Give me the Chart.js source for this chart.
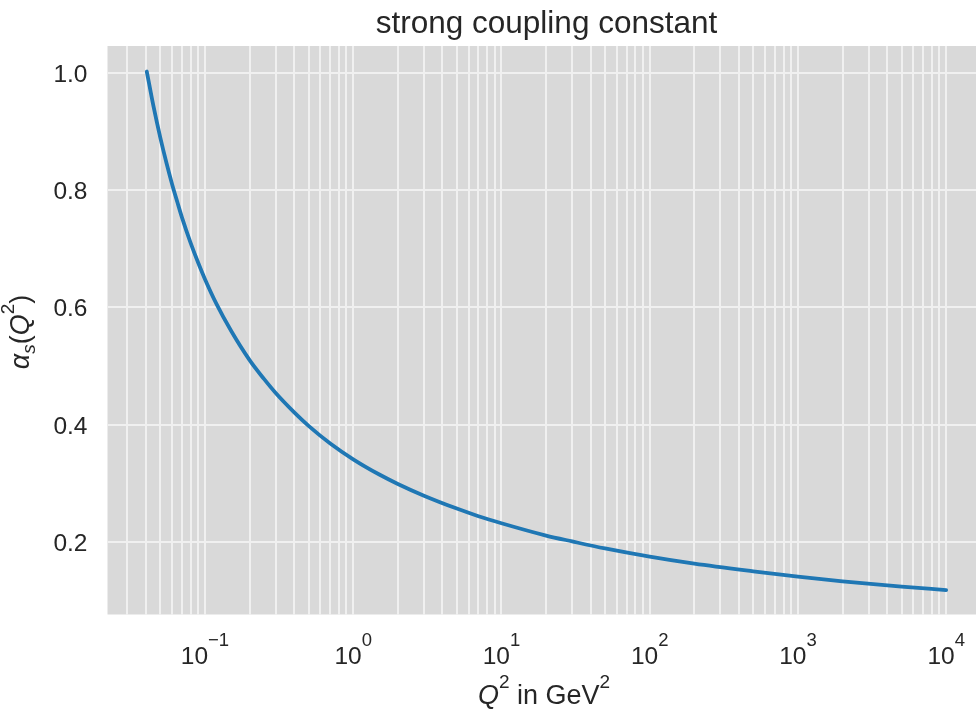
<!DOCTYPE html>
<html><head><meta charset="utf-8">
<script src="https://cdn.jsdelivr.net/npm/chart.js@4.4.1/dist/chart.umd.min.js"></script>
<style>html,body{margin:0;padding:0;background:#fff}#wrap{width:976px;height:713px}</style>
</head><body><div id="wrap"><canvas id="c" width="976" height="713"></canvas></div>
<script>
// ---- data ----
const q2Values = [0.0405, 0.045, 0.05, 0.055, 0.06, 0.065, 0.07, 0.08, 0.09, 0.1,
  0.12, 0.15, 0.2, 0.25, 0.3, 0.4, 0.5, 0.7, 1, 1.5, 2, 3, 5, 7, 10,
  20, 30, 50, 100, 200, 500, 1000, 2000, 5000, 10000];
const alphaValues = [1.002, 0.942, 0.889, 0.846, 0.810, 0.780, 0.753, 0.710, 0.676, 0.648,
  0.605, 0.560, 0.510, 0.478, 0.454, 0.421, 0.398, 0.368, 0.341, 0.315, 0.299, 0.279, 0.257, 0.244, 0.232,
  0.211, 0.201, 0.189, 0.175, 0.163, 0.150, 0.141, 0.133, 0.124, 0.118];
const xDecadeTicks = [0.1, 1, 10, 100, 1000, 10000];
const xDecadeExponents = ['\u22121', '0', '1', '2', '3', '4'];
const xGridValues = [0.03,0.04,0.05,0.06,0.07,0.08,0.09,
  0.1,0.2,0.3,0.4,0.5,0.6,0.7,0.8,0.9,
  1,2,3,4,5,6,7,8,9,
  10,20,30,40,50,60,70,80,90,
  100,200,300,400,500,600,700,800,900,
  1000,2000,3000,4000,5000,6000,7000,8000,9000,
  10000];
const yTickValues = [0.2, 0.4, 0.6, 0.8, 1.0];
const yTickLabels = ['0.2', '0.4', '0.6', '0.8', '1.0'];
const titleText = 'strong coupling constant';

// ---- styling ----
const FAMILY = "'Liberation Sans', Arial, sans-serif";
const TEXT = '#262626';
function fontStr(p){ return (p.italic ? 'italic ' : '') + p.size + 'px ' + FAMILY; }
function drawRun(ctx, parts, x, y, align){
  const w = parts.map(p => { ctx.font = fontStr(p); return ctx.measureText(p.t).width; });
  const total = w.reduce((a,b)=>a+b, 0);
  let cx = align === 'center' ? x - total/2 : (align === 'right' ? x - total : x);
  ctx.textAlign = 'left';
  ctx.textBaseline = 'alphabetic';
  parts.forEach((p,i) => { ctx.font = fontStr(p); ctx.fillText(p.t, cx, y + (p.dy||0)); cx += w[i]; });
}

const bgPlugin = {
  id: 'bg',
  beforeDraw(chart){
    const {ctx, chartArea: a} = chart;
    ctx.save(); ctx.fillStyle = '#d9d9d9';
    ctx.fillRect(a.left, a.top, a.right - a.left, a.bottom - a.top);
    ctx.restore();
  }
};

const textPlugin = {
  id: 'texts',
  afterDraw(chart){
    const {ctx, chartArea: a} = chart;
    const xs = chart.scales.x, ys = chart.scales.y;
    ctx.save();
    ctx.fillStyle = TEXT;
    // y tick labels
    yTickValues.forEach((v,i) => {
      const py = ys.getPixelForValue(v);
      drawRun(ctx, [{t: yTickLabels[i], size: 24.5}], a.left - 20, py + 9, 'right');
    });
    // x tick labels 10^n
    xDecadeTicks.forEach((v,i) => {
      const px = xs.getPixelForValue(v);
      drawRun(ctx, [{t:'10', size:24.5}, {t: xDecadeExponents[i], size:18.5, dy:-17.6}], px, a.bottom + 49, 'center');
    });
    // title
    drawRun(ctx, [{t: titleText, size: 31.5}], 546.5, 33, 'center');
    // x axis label
    drawRun(ctx, [{t:'Q', size:27, italic:true}, {t:'2', size:19, dy:-16}, {t:' in GeV', size:27}, {t:'2', size:19, dy:-16}], 544, 704, 'center');
    // y axis label
    ctx.translate(28.5, 332);
    ctx.rotate(-Math.PI/2);
    drawRun(ctx, [{t:'\u03b1', size:27, italic:true}, {t:'s', size:19, italic:true, dy:6}, {t:'(', size:27}, {t:'Q', size:27, italic:true}, {t:'2', size:19, dy:-15}, {t:')', size:27}], 0, 0, 'center');
    ctx.restore();
  }
};

const gridStyle = { color: '#f0f0f0', lineWidth: 2, drawTicks: false };

new Chart(document.getElementById('c').getContext('2d'), {
  type: 'line',
  data: {
    datasets: [{
      data: q2Values.map((x,i) => ({x: x, y: alphaValues[i]})),
      borderColor: '#1f77b4',
      borderWidth: 3.8,
      pointRadius: 0,
      fill: false,
      cubicInterpolationMode: 'monotone',
      borderCapStyle: 'round'
    }]
  },
  options: {
    responsive: false,
    animation: false,
    devicePixelRatio: 1,
    layout: { padding: { left: 107.5, top: 46, right: 0, bottom: 98.5 } },
    plugins: { legend: {display:false}, tooltip: {enabled:false}, title: {display:false} },
    scales: {
      x: {
        type: 'logarithmic', min: 0.022, max: 15900,
        border: {display:false},
        grid: gridStyle,
        ticks: {display:false, autoSkip:false},
        afterBuildTicks: s => { s.ticks = xGridValues.map(v => ({value: v})); }
      },
      y: {
        type: 'linear', min: 0.0764, max: 1.0455,
        border: {display:false},
        grid: gridStyle,
        ticks: {display:false},
        afterBuildTicks: s => { s.ticks = yTickValues.map(v => ({value: v})); }
      }
    }
  },
  plugins: [bgPlugin, textPlugin]
});
</script>
</body></html>
